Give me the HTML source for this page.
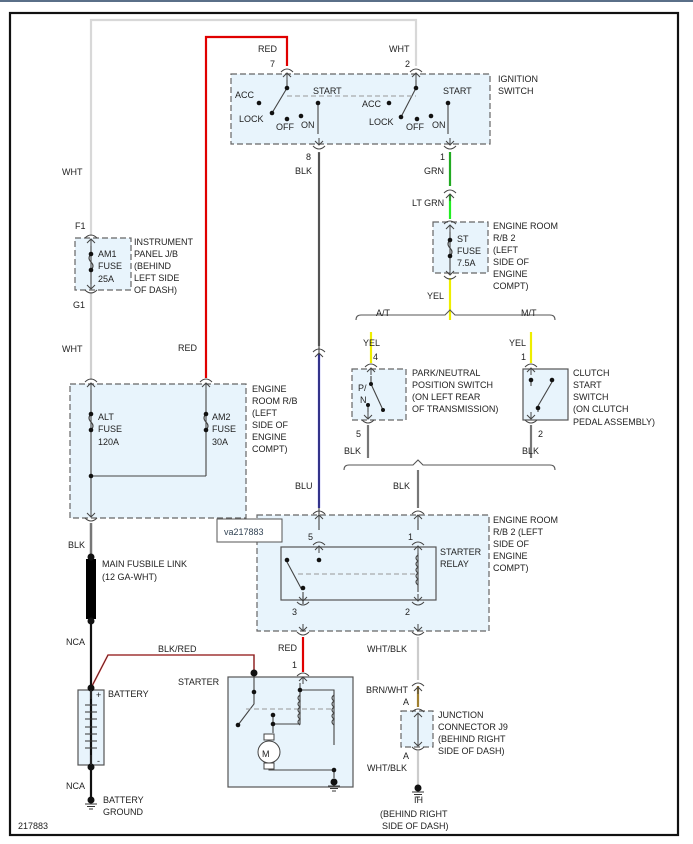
<!DOCTYPE html>
<html><head><meta charset="utf-8"><style>
html,body{margin:0;padding:0;background:#fff;}
svg{display:block;}
text{font-family:"Liberation Sans",sans-serif;font-size:9px;fill:#222;}
</style></head><body>
<svg width="693" height="844" viewBox="0 0 693 844" xmlns="http://www.w3.org/2000/svg">
<defs>
<g id="cu"><path d="M-6,4 Q0,-2 6,4" fill="none" stroke="#444" stroke-width="1"/><path d="M-4,9 L0,5 L4,9 M0,5 V12" fill="none" stroke="#444" stroke-width="1"/></g>
<g id="cd"><path d="M-6,-4 Q0,2 6,-4" fill="none" stroke="#444" stroke-width="1"/><path d="M-4,-9 L0,-5 L4,-9 M0,-5 V-12" fill="none" stroke="#444" stroke-width="1"/></g>
<g id="gnd"><circle cx="0" cy="0" r="3.5" fill="#111"/><path d="M-6,4 H6 M-4,6.5 H4 M-2,9 H2" stroke="#333" stroke-width="1"/></g>
</defs>
<rect x="0" y="0" width="693" height="2" fill="#5a6f88"/>
<rect x="10" y="13" width="668" height="822" fill="none" stroke="#111" stroke-width="2.2"/>

<g fill="#e8f4fc" stroke="#666" stroke-width="1.2" stroke-dasharray="6,3">
<rect x="231" y="74" width="259" height="70"/>
<rect x="75" y="238" width="56" height="52"/>
<rect x="70" y="384" width="176" height="134"/>
<rect x="433" y="222" width="55" height="51"/>
<rect x="352" y="369" width="54" height="51"/>
<rect x="257" y="515" width="232" height="116"/>
<rect x="401" y="711" width="32" height="36"/>
</g>
<g fill="#e8f4fc" stroke="#555" stroke-width="1.2">
<rect x="523" y="369" width="45" height="51"/>
<rect x="228" y="677" width="125" height="110"/>
<rect x="281" y="547" width="155" height="53" fill="none"/>
<rect x="78" y="690" width="26" height="75"/>
</g>

<g fill="none" stroke-width="2.2">
<path d="M91,236 V20 H416 V66" stroke="#d8d8d8"/>
<path d="M91,292 V380" stroke="#d0d0d0"/>
<path d="M206,378 V37 H287 V66" stroke="#e00000"/>
<path d="M319,152 V346" stroke="#666"/>
<path d="M319,354 V508" stroke="#2020e0"/>
<path d="M450,152 V186" stroke="#22aa22"/>
<path d="M450,194 V219" stroke="#22ee22"/>
<path d="M450,278 V320" stroke="#eeee00"/>
<path d="M371,332 V363" stroke="#eeee00"/>
<path d="M531,332 V363" stroke="#eeee00"/>
<path d="M368,425 V458" stroke="#777"/>
<path d="M531,425 V458" stroke="#777"/>
<path d="M418,470 V508" stroke="#777"/>
<path d="M303,637 V672" stroke="#e00000"/>
<path d="M418,637 V680" stroke="#ccc"/>
<path d="M418,686 V707" stroke="#a08030"/>
<path d="M418,751 V786" stroke="#ccc"/>
<path d="M91,523 V800" stroke="#111"/>
<path d="M91,523 V556" stroke="#777"/>
<path d="M91,688 L108,655 H254 V673" stroke="#e04040" stroke-width="1.6"/>
<path d="M91,688 L108,655 H254 V673" stroke="#222" stroke-width="0.6"/>
</g>
<rect x="86" y="559" width="10" height="60" fill="#000"/>
<circle cx="91" cy="557" r="3.5" fill="#111"/><circle cx="91" cy="621" r="3.5" fill="#111"/>
<circle cx="91" cy="688" r="3.5" fill="#111"/><circle cx="91" cy="767" r="3.5" fill="#111"/>
<circle cx="254" cy="673" r="3.5" fill="#111"/>

<use href="#cu" x="287" y="68"/><use href="#cu" x="416" y="68"/>
<use href="#cd" x="319" y="150"/><use href="#cd" x="450" y="150"/>
<use href="#cu" x="450" y="189"/><use href="#cu" x="450" y="220"/><use href="#cd" x="450" y="280"/>
<use href="#cu" x="91" y="234"/><use href="#cd" x="91" y="294"/>
<use href="#cu" x="91" y="378"/><use href="#cu" x="206" y="378"/><use href="#cd" x="91" y="522"/>
<use href="#cu" x="319" y="348"/>
<use href="#cu" x="371" y="363"/><use href="#cu" x="531" y="363"/>
<use href="#cd" x="368" y="424"/><use href="#cd" x="531" y="424"/>
<use href="#cu" x="319" y="510"/><use href="#cu" x="418" y="510"/>
<use href="#cu" x="319" y="541"/><use href="#cu" x="418" y="541"/>
<use href="#cd" x="303" y="606"/><use href="#cd" x="418" y="606"/>
<use href="#cd" x="303" y="636"/><use href="#cd" x="418" y="636"/>
<use href="#cu" x="303" y="672"/>
<use href="#cu" x="418" y="682"/><use href="#cu" x="418" y="708"/><use href="#cd" x="418" y="751"/>

<g fill="none" stroke="#444" stroke-width="1.1">
<path d="M91,246 V284 M206,390 V476 M91,390 V510 M91,476 H206"/>
<path d="M450,232 V270"/>
<path d="M418,719 V740"/>
<path d="M287,80 V88 L272,113 M416,80 V88 L401,117"/>
<path d="M318,103 V134 M448,103 V134"/>
<path d="M319,153 V530 M418,553 V592 M303,596 V604 M418,520 V530"/>
<path d="M371,376 V384 L383,410 M368,405 V412 M531,378 V386 M552,382 L538,406 M538,406 V412"/>
<path d="M287,562 L302,590 M303,592 V604"/>
<path d="M254,677 V704 L238,725"/>
<path d="M300,683 V690 H334 V745 M300,690 V724 H273 M273,715 V724 V733"/>
<path d="M269,768 V770 H334 V778"/>
</g>
<g fill="none" stroke="#999" stroke-width="1" stroke-dasharray="5,3">
<path d="M287,96 H416 M298,574 H418 M246,709 H334"/>
</g>
<g fill="none" stroke="#444" stroke-width="1.1">
<path d="M91,254 q-4,4 0,8 q4,4 0,8 M91,414 q-4,4 0,8 q4,4 0,8 M206,414 q-4,4 0,8 q4,4 0,8 M450,240 q-4,4 0,8 q4,4 0,8"/>
<path d="M418,555 q-4,3 0,6 q-4,3 0,6 q-4,3 0,6 q-4,3 0,6 q-4,3 0,6"/>
<path d="M300,695 q-4,3 0,6 q-4,3 0,6 q-4,3 0,6 q-4,3 0,6 q-4,3 0,6"/>
<path d="M334,695 q-4,3 0,6 q-4,3 0,6 q-4,3 0,6 q-4,3 0,6 q-4,3 0,6"/>
<path d="M356,320 q0,-5 5,-5 h84 l5,-5 l5,5 h95 q5,0 5,5" stroke="#555"/>
<path d="M344,470 q0,-5 5,-5 h64 l5,-5 l5,5 h127 q5,0 5,5" stroke="#555"/>
<path d="M85,705 h12 M85,712 h12 M85,719 h12 M85,727 h12 M85,734 h12 M85,741 h12 M85,748 h12 M91,690 V699 M91,755 V765" stroke="#333"/>
</g>
<rect x="264" y="734" width="10" height="6" fill="#fff" stroke="#444"/>
<rect x="264" y="763" width="10" height="6" fill="#fff" stroke="#444"/>
<circle cx="269" cy="752" r="11" fill="#fff" stroke="#444"/>
<text x="262" y="757" font-size="12">M</text>
<g fill="#111">
<circle cx="287" cy="88" r="2.3"/><circle cx="259" cy="103" r="2.3"/><circle cx="272" cy="113" r="2.3"/><circle cx="287" cy="119" r="2.3"/><circle cx="301" cy="116" r="2.3"/><circle cx="318" cy="103" r="2.3"/>
<circle cx="416" cy="88" r="2.3"/><circle cx="389" cy="103" r="2.3"/><circle cx="401" cy="117" r="2.3"/><circle cx="417" cy="119" r="2.3"/><circle cx="431" cy="116" r="2.3"/><circle cx="448" cy="103" r="2.3"/>
<circle cx="91" cy="254" r="2.3"/><circle cx="91" cy="270" r="2.3"/><circle cx="91" cy="414" r="2.3"/><circle cx="91" cy="430" r="2.3"/><circle cx="206" cy="414" r="2.3"/><circle cx="206" cy="430" r="2.3"/><circle cx="91" cy="476" r="2.3"/>
<circle cx="450" cy="240" r="2.3"/><circle cx="450" cy="256" r="2.3"/>
<circle cx="371" cy="384" r="2"/><circle cx="383" cy="410" r="2"/><circle cx="368" cy="405" r="2"/>
<circle cx="531" cy="380" r="2.3"/><circle cx="552" cy="380" r="2.3"/><circle cx="538" cy="408" r="2.3"/>
<circle cx="287" cy="560" r="2.3"/><circle cx="303" cy="588" r="2.3"/><circle cx="319" cy="560" r="2.3"/>
<circle cx="254" cy="692" r="2.3"/><circle cx="238" cy="725" r="2.3"/><circle cx="300" cy="690" r="2.3"/><circle cx="273" cy="715" r="2.3"/><circle cx="273" cy="724" r="2.3"/><circle cx="334" cy="770" r="2.3"/>
</g>
<use href="#gnd" x="334" y="782"/><use href="#gnd" x="91" y="800"/><use href="#gnd" x="418" y="788"/>

<text x="258" y="52">RED</text><text x="270" y="67">7</text>
<text x="389" y="52">WHT</text><text x="405" y="67">2</text>
<text x="498" y="82">IGNITION</text><text x="498" y="94">SWITCH</text>
<text x="235" y="98">ACC</text><text x="313" y="94">START</text><text x="239" y="122">LOCK</text><text x="276" y="130">OFF</text><text x="301" y="128">ON</text>
<text x="362" y="107">ACC</text><text x="443" y="94">START</text><text x="369" y="125">LOCK</text><text x="406" y="130">OFF</text><text x="432" y="128">ON</text>
<text x="306" y="160">8</text><text x="295" y="174">BLK</text>
<text x="440" y="160">1</text><text x="424" y="174">GRN</text>
<text x="412" y="206">LT GRN</text>
<text x="493" y="229">ENGINE ROOM</text><text x="493" y="241">R/B 2</text><text x="493" y="253">(LEFT</text><text x="493" y="265">SIDE OF</text><text x="493" y="277">ENGINE</text><text x="493" y="289">COMPT)</text>
<text x="457" y="242">ST</text><text x="457" y="254">FUSE</text><text x="457" y="266">7.5A</text>
<text x="427" y="299">YEL</text>
<text x="376" y="316">A/T</text><text x="521" y="316">M/T</text>
<text x="363" y="346">YEL</text><text x="373" y="360">4</text>
<text x="509" y="346">YEL</text><text x="521" y="360">1</text>
<text x="358" y="391">P/</text><text x="360" y="403">N</text>
<text x="412" y="376">PARK/NEUTRAL</text><text x="412" y="388">POSITION SWITCH</text><text x="412" y="400">(ON LEFT REAR</text><text x="412" y="412">OF TRANSMISSION)</text>
<text x="573" y="376">CLUTCH</text><text x="573" y="388">START</text><text x="573" y="400">SWITCH</text><text x="573" y="412">(ON CLUTCH</text><text x="573" y="425">PEDAL ASSEMBLY)</text>
<text x="356" y="437">5</text><text x="344" y="454">BLK</text>
<text x="538" y="437">2</text><text x="522" y="454">BLK</text>
<text x="62" y="175">WHT</text>
<text x="75" y="229">F1</text><text x="73" y="308">G1</text>
<text x="98" y="257">AM1</text><text x="98" y="269">FUSE</text><text x="98" y="282">25A</text>
<text x="134" y="245">INSTRUMENT</text><text x="134" y="257">PANEL J/B</text><text x="134" y="269">(BEHIND</text><text x="134" y="281">LEFT SIDE</text><text x="134" y="293">OF DASH)</text>
<text x="62" y="352">WHT</text><text x="178" y="351">RED</text>
<text x="98" y="420">ALT</text><text x="98" y="432">FUSE</text><text x="98" y="445">120A</text>
<text x="212" y="420">AM2</text><text x="212" y="432">FUSE</text><text x="212" y="445">30A</text>
<text x="252" y="392">ENGINE</text><text x="252" y="404">ROOM R/B</text><text x="252" y="416">(LEFT</text><text x="252" y="428">SIDE OF</text><text x="252" y="440">ENGINE</text><text x="252" y="452">COMPT)</text>
<text x="295" y="489">BLU</text><text x="393" y="489">BLK</text>
<text x="493" y="523">ENGINE ROOM</text><text x="493" y="535">R/B 2 (LEFT</text><text x="493" y="547">SIDE OF</text><text x="493" y="559">ENGINE</text><text x="493" y="571">COMPT)</text>
<text x="308" y="540">5</text><text x="408" y="540">1</text>
<text x="440" y="555">STARTER</text><text x="440" y="567">RELAY</text>
<text x="292" y="615">3</text><text x="405" y="615">2</text>
<text x="68" y="548">BLK</text>
<text x="102" y="567">MAIN FUSBILE LINK</text><text x="102" y="580">(12 GA-WHT)</text>
<text x="66" y="645">NCA</text>
<text x="158" y="652">BLK/RED</text>
<text x="278" y="651">RED</text><text x="292" y="668">1</text>
<text x="178" y="685">STARTER</text>
<text x="108" y="697">BATTERY</text>
<text x="96" y="698" font-size="7">+</text><text x="97" y="764" font-size="7">-</text>
<text x="66" y="789">NCA</text>
<text x="103" y="803">BATTERY</text><text x="103" y="815">GROUND</text>
<text x="18" y="829">217883</text>
<text x="367" y="652">WHT/BLK</text>
<text x="366" y="693">BRN/WHT</text><text x="403" y="705">A</text>
<text x="438" y="718">JUNCTION</text><text x="438" y="730">CONNECTOR J9</text><text x="438" y="742">(BEHIND RIGHT</text><text x="438" y="754">SIDE OF DASH)</text>
<text x="403" y="759">A</text><text x="367" y="771">WHT/BLK</text>
<text x="414" y="803">IH</text><text x="380" y="817">(BEHIND RIGHT</text><text x="382" y="829">SIDE OF DASH)</text>

<rect x="217" y="519" width="65" height="23" fill="#fff" stroke="#555"/>
<text x="224" y="535" font-size="11" style="fill:#345">va217883</text>
</svg>
</body></html>
